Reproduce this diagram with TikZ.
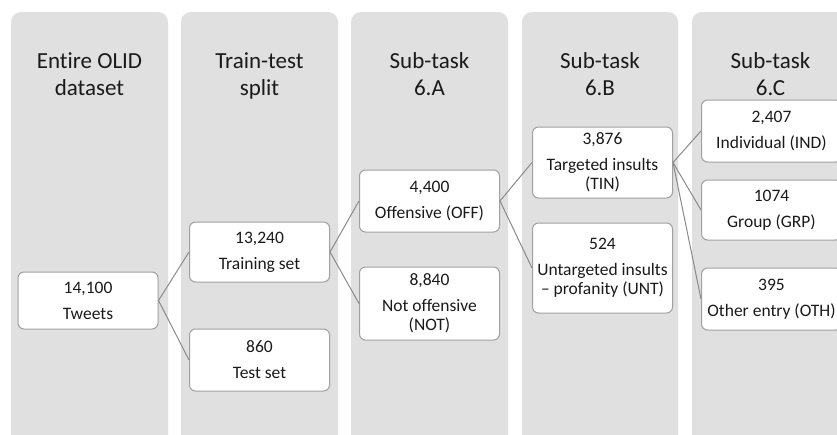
\documentclass[tikz,border=0pt]{standalone}
\usepackage{fontspec}
\setmainfont{Carlito}[Ligatures=NoCommon]
\definecolor{lanegray}{HTML}{E0E0E0}
\definecolor{boxgray}{HTML}{A0A0A0}
\definecolor{linkgray}{HTML}{8A8A8A}
\definecolor{ink}{HTML}{1A1A1A}
\begin{document}
\begin{tikzpicture}[x=1pt,y=-1pt,
  lane/.style={fill=lanegray, draw=none, rounded corners=10pt},
  title/.style={font=\fontsize{23}{27}\selectfont, text=ink, anchor=base, inner sep=0pt},
  cell/.style={draw=boxgray, line width=1pt, fill=white, rounded corners=6pt,
    minimum width=140pt, align=center, text=ink,
    font=\fontsize{17.5}{19}\selectfont, inner sep=0pt},
  link/.style={draw=linkgray, line width=1pt}]
\useasboundingbox (0,0) rectangle (837,434);
\clip (0,0) rectangle (837,434);

% stage columns
\fill[lane] (11,12) rectangle (168,460);
\fill[lane] (181,12) rectangle (338,460);
\fill[lane] (351,12) rectangle (508,460);
\fill[lane] (522,12) rectangle (678,460);
\fill[lane] (692,12) rectangle (860,460);

% column headings
\node[title] (h1a) at (89.5,68) {Entire OLID};
\node[title] (h1b) at (89.5,95) {dataset};
\node[title] (h2a) at (259.5,68) {Train-test};
\node[title] (h2b) at (259.5,95) {split};
\node[title] (h3a) at (429.5,68) {Sub-task};
\node[title] (h3b) at (429.5,95) {6.A};
\node[title] (h4a) at (600,68) {Sub-task};
\node[title] (h4b) at (600,95) {6.B};
\node[title] (h5a) at (770.5,68) {Sub-task};
\node[title] (h5b) at (770.5,95) {6.C};

% class boxes
\node[cell, minimum height=57pt] (tw) at (88,300.5) {14,100\\[7pt]Tweets};
\node[cell, minimum height=60pt] (tr) at (259.5,252) {13,240\\[7pt]Training set};
\node[cell, minimum height=62pt] (te) at (259.5,360) {860\\[7pt]Test set};
\node[cell, minimum height=62pt] (off) at (429.5,201) {4,400\\[7pt]Offensive (OFF)};
\node[cell, minimum height=73pt] (not) at (429.5,303.5) {8,840\\[7pt]Not offensive\\(NOT)};
\node[cell, minimum height=71pt] (tin) at (602.5,162.5) {3,876\\[7pt]Targeted insults\\(TIN)};
\node[cell, minimum height=90pt] (unt) at (602.5,268) {524\\[7pt]Untargeted insults\\– profanity (UNT)};
\node[cell, minimum height=62pt] (ind) at (771.5,131) {2,407\\[7pt]Individual (IND)};
\node[cell, minimum height=60pt] (grp) at (771.5,210) {1074\\[7pt]Group (GRP)};
\node[cell, minimum height=62pt] (oth) at (771.5,299) {395\\[7pt]Other entry (OTH)};

% connectors
\draw[link] (tw.east) -- (tr.west);
\draw[link] (tw.east) -- (te.west);
\draw[link] (tr.east) -- (off.west);
\draw[link] (tr.east) -- (not.west);
\draw[link] (off.east) -- (tin.west);
\draw[link] (off.east) -- (unt.west);
\draw[link] (tin.east) -- (ind.west);
\draw[link] (tin.east) -- (grp.west);
\draw[link] (tin.east) -- (oth.west);
\end{tikzpicture}
\end{document}
